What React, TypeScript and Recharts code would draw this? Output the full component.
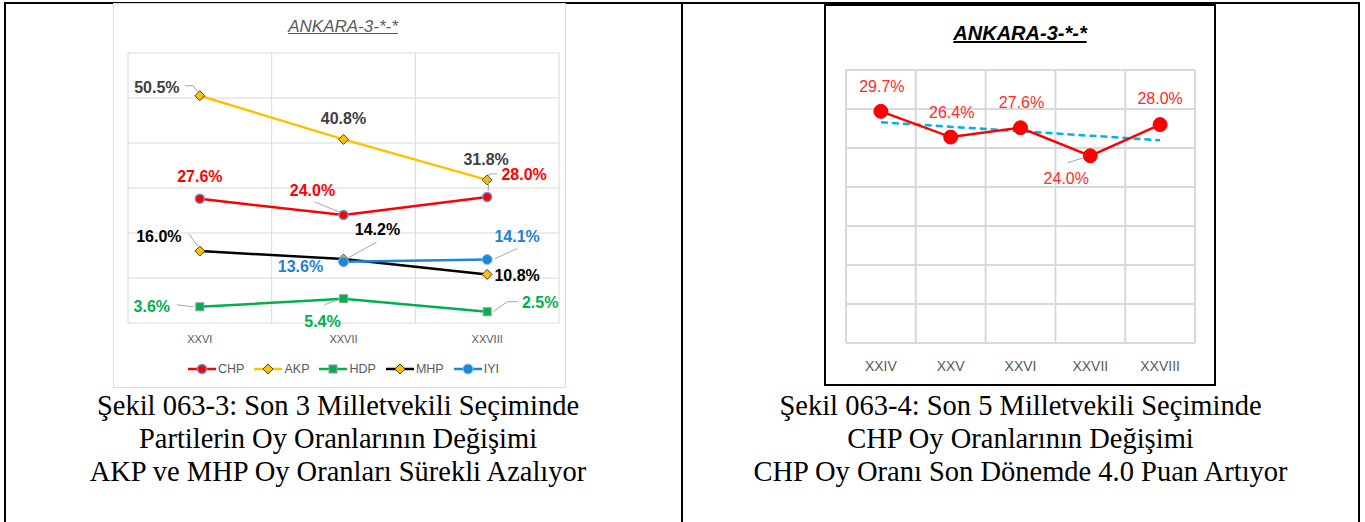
import React from 'react';
import { LineChart, Line, XAxis, YAxis, CartesianGrid, ReferenceLine, LabelList, Legend } from 'recharts';

// ---------- data: left chart (last 3 elections) ----------
const categories3 = ['XXVI', 'XXVII', 'XXVIII'];
const chp3 = [27.6, 24.0, 28.0];
const akp3 = [50.5, 40.8, 31.8];
const hdp3 = [3.6, 5.4, 2.5];
const mhp3 = [16.0, 14.2, 10.8];
const iyi3: (number | null)[] = [null, 13.6, 14.1];
const yTicks3 = [0, 10, 20, 30, 40, 50, 60];
const seriesNames3 = ['CHP', 'AKP', 'HDP', 'MHP', 'IYI'];

// ---------- data: right chart (last 5 elections, CHP) ----------
const categories5 = ['XXIV', 'XXV', 'XXVI', 'XXVII', 'XXVIII'];
const chp5 = [29.7, 26.4, 27.6, 24.0, 28.0];
const chpTrend5: (number | null)[] = [28.3, null, null, null, 26.0];
const yTicks5 = [0, 5, 10, 15, 20, 25, 30, 35];

const title = 'ANKARA-3-*-*';
const captionLeft = [
  'Şekil 063-3: Son 3 Milletvekili Seçiminde',
  'Partilerin Oy Oranlarının Değişimi',
  'AKP ve MHP Oy Oranları Sürekli Azalıyor',
];
const captionRight = [
  'Şekil 063-4: Son 5 Milletvekili Seçiminde',
  'CHP Oy Oranlarının Değişimi',
  'CHP Oy Oranı Son Dönemde 4.0 Puan Artıyor',
];

const data3 = categories3.map((cat, i) => ({
  idx: i,
  cat,
  CHP: chp3[i],
  AKP: akp3[i],
  HDP: hdp3[i],
  MHP: mhp3[i],
  IYI: iyi3[i],
}));
const data5 = categories5.map((cat, i) => ({ idx: i, cat, CHP: chp5[i], trend: chpTrend5[i] }));

// ---------- styles ----------
const SANS = '"Liberation Sans", Arial, sans-serif';
const SERIF = '"Liberation Serif", "Times New Roman", serif';
const GRID = '#d9d9d9';
const COLORS: Record<string, string> = {
  CHP: '#FF0000',
  AKP: '#FFC000',
  HDP: '#00B050',
  MHP: '#000000',
  IYI: '#1C86DA',
};
const LABEL_COLORS: Record<string, string> = {
  CHP: '#FF0000',
  AKP: '#404040',
  HDP: '#00B050',
  MHP: '#000000',
  IYI: '#1F7FD0',
};

type LabelSpec = { dx: number; dy: number; leader?: [number, number][] } | null;

// label placement relative to each point
const labelSpecs3: Record<string, LabelSpec[]> = {
  CHP: [
    { dx: 0, dy: -22 },
    { dx: -31, dy: -25, leader: [[-29, -13], [-4, -3]] },
    { dx: 37, dy: -23, leader: [[10, -23], [2, -23], [1, -6]] },
  ],
  AKP: [
    { dx: -43, dy: -8, leader: [[-15, -10], [-7, -10], [-2, -4]] },
    { dx: 0, dy: -21 },
    { dx: -1, dy: -20 },
  ],
  HDP: [
    { dx: -48, dy: 0, leader: [[-23, -2], [-6, 0]] },
    { dx: -21, dy: 23, leader: [[-19, 6], [-5, 1]] },
    { dx: 53, dy: -9, leader: [[31, -10], [20, -10], [6, 0]] },
  ],
  MHP: [
    { dx: -41, dy: -15, leader: [[-11, -17], [-2, -5]] },
    { dx: 34, dy: -30, leader: [[33, -17], [6, -2]] },
    { dx: 30, dy: 1 },
  ],
  IYI: [
    null,
    { dx: -43, dy: 5 },
    { dx: 30, dy: -23, leader: [[30, -11], [8, -1]] },
  ],
};

const labelSpecs5: LabelSpec[] = [
  { dx: 1, dy: -25 },
  { dx: 1, dy: -25 },
  { dx: 1, dy: -25 },
  { dx: -24, dy: 23, leader: [[-23, 7], [-7, 2]] },
  { dx: 0, dy: -26 },
];

const makeLabel = (specs: LabelSpec[], color: string, fontSize: number, bold: boolean) => (props: any) => {
  const { x, y, value, index } = props;
  const s = specs[index];
  if (!s || value == null || x == null || y == null) return null;
  return (
    <g key={`lbl-${index}`}>
      {s.leader && (
        <polyline
          points={s.leader.map(([a, b]) => `${x + a},${y + b}`).join(' ')}
          fill="none"
          stroke="#a6a6a6"
          strokeWidth={1}
        />
      )}
      <text
        x={x + s.dx}
        y={y + s.dy}
        textAnchor="middle"
        dominantBaseline="central"
        fill={color}
        fontSize={fontSize}
        fontWeight={bold ? 700 : 400}
        fontFamily={SANS}
      >
        {`${Number(value).toFixed(1)}%`}
      </text>
    </g>
  );
};

const renderMarker = (shape: string, cx: number, cy: number, key: string) => {
  switch (shape) {
    case 'CHP':
      return <circle key={key} cx={cx} cy={cy} r={4.5} fill="#FF0000" stroke="#5B9BD5" strokeWidth={1.5} />;
    case 'AKP':
    case 'MHP': {
      const r = 5;
      return (
        <path
          key={key}
          d={`M${cx},${cy - r}L${cx + r},${cy}L${cx},${cy + r}L${cx - r},${cy}Z`}
          fill="#FFC000"
          stroke="#404040"
          strokeWidth={1}
        />
      );
    }
    case 'HDP':
      return <rect key={key} x={cx - 4} y={cy - 4} width={8} height={8} fill="#00B050" stroke="#9a9a9a" strokeWidth={1} />;
    case 'IYI':
      return <circle key={key} cx={cx} cy={cy} r={5} fill="#1C86DA" stroke="#7EC0F0" strokeWidth={1} />;
    default:
      return <g key={key} />;
  }
};

const makeDot = (shape: string) => (p: any) => {
  const { cx, cy, index } = p;
  if (cx == null || cy == null || p.value == null) return <g key={`dot-${shape}-${index}`} />;
  return renderMarker(shape, cx, cy, `dot-${shape}-${index}`);
};

const LegendContent3 = () => (
  <div style={{ display: 'flex', justifyContent: 'center', alignItems: 'center', gap: 10, fontFamily: SANS, fontSize: 12.5, color: '#595959' }}>
    {seriesNames3.map((name) => (
      <div key={name} style={{ display: 'flex', alignItems: 'center' }}>
        <svg width={28} height={12} style={{ display: 'block' }}>
          <line x1={0} y1={6} x2={28} y2={6} stroke={COLORS[name]} strokeWidth={2.5} />
          {renderMarker(name, 14, 6, `lg-${name}`)}
        </svg>
        <span style={{ marginLeft: 2 }}>{name}</span>
      </div>
    ))}
  </div>
);

const LeftChart = () => (
  <LineChart width={452} height={384} data={data3} margin={{ top: 50, right: 6, left: 15, bottom: 1 }}>
    <CartesianGrid vertical={false} stroke={GRID} strokeWidth={1} />
    {[-0.5, 0.5, 1.5, 2.5].map((v) => (
      <ReferenceLine key={`v${v}`} x={v} stroke={GRID} strokeWidth={1} ifOverflow="visible" />
    ))}
    <XAxis
      type="number"
      dataKey="idx"
      domain={[-0.5, 2.5]}
      ticks={[0, 1, 2]}
      interval={0}
      tickFormatter={(v: number) => categories3[v]}
      axisLine={false}
      tickLine={false}
      tick={{ fill: '#595959', fontSize: 11, fontFamily: SANS, dy: 4 }}
      height={39}
    />
    <YAxis hide domain={[0, 60]} ticks={yTicks3} />
    <Legend verticalAlign="bottom" height={24} content={() => <LegendContent3 />} />
    {seriesNames3.map((name) => (
      <Line
        key={name}
        type="linear"
        dataKey={name}
        stroke={COLORS[name]}
        strokeWidth={2.5}
        dot={makeDot(name)}
        activeDot={false}
        isAnimationActive={false}
        connectNulls={false}
      >
        <LabelList dataKey={name} content={makeLabel(labelSpecs3[name], LABEL_COLORS[name], 16, true)} />
      </Line>
    ))}
  </LineChart>
);

const RightChart = () => (
  <LineChart width={390} height={381} data={data5} margin={{ top: 66, right: 20, left: 21, bottom: 0 }}>
    <CartesianGrid vertical={false} stroke={GRID} strokeWidth={2} />
    {[-0.5, 0.5, 1.5, 2.5, 3.5, 4.5].map((v) => (
      <ReferenceLine key={`v${v}`} x={v} stroke={GRID} strokeWidth={2} ifOverflow="visible" />
    ))}
    <XAxis
      type="number"
      dataKey="idx"
      domain={[-0.5, 4.5]}
      ticks={[0, 1, 2, 3, 4]}
      interval={0}
      tickFormatter={(v: number) => categories5[v]}
      axisLine={false}
      tickLine={false}
      tick={{ fill: '#595959', fontSize: 14, fontFamily: SANS, dy: 10 }}
      height={42}
    />
    <YAxis hide domain={[0, 35]} ticks={yTicks5} />
    <Line
      type="linear"
      dataKey="trend"
      stroke="#00B0F0"
      strokeWidth={2.5}
      strokeDasharray="7 4"
      dot={false}
      activeDot={false}
      connectNulls
      isAnimationActive={false}
    />
    <Line
      type="linear"
      dataKey="CHP"
      stroke="#FF0000"
      strokeWidth={2.5}
      dot={(p: any) => <circle key={`r-${p.index}`} cx={p.cx} cy={p.cy} r={7} fill="#FF0000" stroke="#FF0000" />}
      activeDot={false}
      isAnimationActive={false}
    >
      <LabelList dataKey="CHP" content={makeLabel(labelSpecs5, '#FF2A2A', 16, false)} />
    </Line>
  </LineChart>
);

const abs = (style: React.CSSProperties): React.CSSProperties => ({ position: 'absolute', ...style });

const captionStyle: React.CSSProperties = {
  textAlign: 'center',
  fontFamily: SERIF,
  fontSize: 28.5,
  lineHeight: '33px',
  color: '#000',
  whiteSpace: 'nowrap',
};

export default function App() {
  return (
    <div style={abs({ left: 0, top: 0, width: 1365, height: 522, background: '#fff', overflow: 'hidden' })}>
      {/* table borders */}
      <div style={abs({ left: 4, top: 2, width: 1356, height: 2, background: '#000' })} />
      <div style={abs({ left: 4, top: 2, width: 2, height: 520, background: '#000' })} />
      <div style={abs({ left: 681, top: 2, width: 2, height: 520, background: '#000' })} />
      <div style={abs({ left: 1358, top: 2, width: 2, height: 520, background: '#000' })} />

      {/* left chart image */}
      <div style={abs({ left: 113, top: 3, width: 453, height: 385, border: '1px solid #d9d9d9', boxSizing: 'border-box' })} />
      <div
        style={abs({
          left: 113,
          top: 18,
          width: 460,
          textAlign: 'center',
          fontFamily: SANS,
          fontStyle: 'italic',
          fontSize: 17,
          lineHeight: '17px',
          color: '#595959',
          textDecoration: 'underline',
        })}
      >
        {title}
      </div>
      <div style={abs({ left: 113, top: 3 })}>
        <LeftChart />
      </div>

      {/* right chart image */}
      <div style={abs({ left: 824, top: 4, width: 392, height: 382, border: '2px solid #000', boxSizing: 'border-box' })} />
      <div
        style={abs({
          left: 824,
          top: 23,
          width: 392,
          textAlign: 'center',
          fontFamily: SANS,
          fontStyle: 'italic',
          fontWeight: 700,
          fontSize: 20,
          lineHeight: '20px',
          color: '#000',
          textDecoration: 'underline',
        })}
      >
        {title}
      </div>
      <div style={abs({ left: 825, top: 4 })}>
        <RightChart />
      </div>

      {/* captions */}
      <div style={abs({ left: 0, top: 389, width: 676, ...captionStyle })}>
        {captionLeft.map((t) => (
          <div key={t}>{t}</div>
        ))}
      </div>
      <div style={abs({ left: 683, top: 389, width: 675, ...captionStyle })}>
        {captionRight.map((t) => (
          <div key={t}>{t}</div>
        ))}
      </div>
    </div>
  );
}
